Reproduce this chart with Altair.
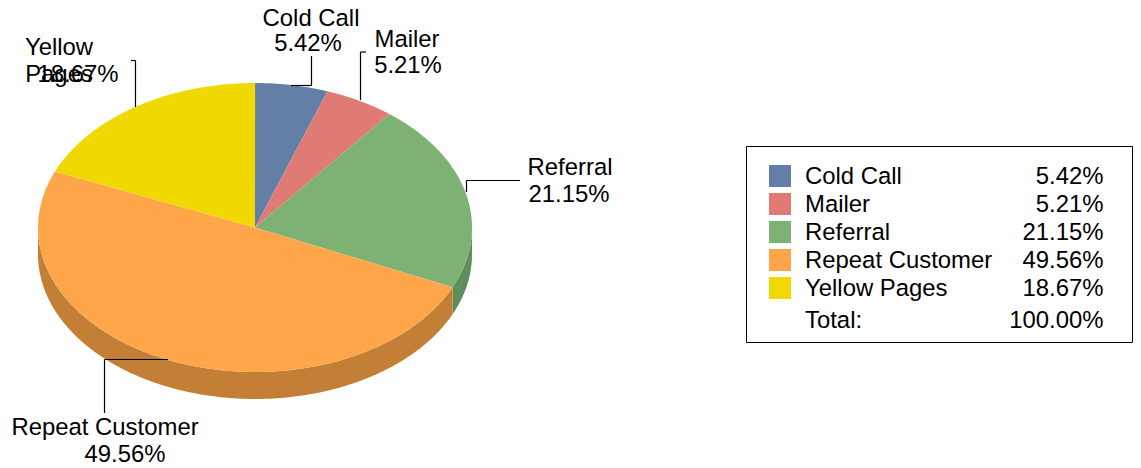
import math
import altair as alt
import pandas as pd

categories = ["Cold Call", "Mailer", "Referral", "Repeat Customer", "Yellow Pages"]
shares = [5.42, 5.21, 21.15, 49.56, 18.67]
share_labels = ["5.42%", "5.21%", "21.15%", "49.56%", "18.67%"]
total_label = "100.00%"
top_colors = ["#647FA6", "#DF7A74", "#7DB274", "#FFA64B", "#F0D900"]
wall_colors = ["#4E6482", "#AE5F5A", "#5F8E5B", "#C47F36", "#BBA900"]

W, H = 1125, 458
OFF = 8
CX, CY, RX, RY, DEPTH = 255 - OFF, 227.5 - OFF, 217, 144.5, 27
FONT = "Liberation Sans"
FS = 23.9


def rim(deg, dy=0.0):
    a = math.radians(deg)
    return [CX + RX * math.sin(a), CY - RY * math.cos(a) + dy]


def arc(a0, a1, dy=0.0):
    n = max(2, int(abs(a1 - a0) / 0.5) + 1)
    return [rim(a0 + (a1 - a0) * i / (n - 1), dy) for i in range(n)]


def feature(name, ring):
    ring = ring + [ring[0]]
    return {"type": "Feature", "properties": {"name": name},
            "geometry": {"type": "Polygon", "coordinates": [ring]}}


tops, walls = [], []
start = 0.0
for name, s in zip(categories, shares):
    end = start + s * 3.6
    tops.append(feature(name, [[CX, CY]] + arc(start, end)))
    w0, w1 = max(start, 90), min(end, 270)
    if w1 > w0:
        walls.append(feature(name, arc(w0, w1) + arc(w1, w0, DEPTH)))
    start = end


def geo(features, colors):
    return alt.Chart(alt.Data(values=features)).mark_geoshape(strokeWidth=0).encode(
        color=alt.Color("properties.name:N",
                        scale=alt.Scale(domain=categories, range=colors),
                        legend=None)
    ).project(type="identity", scale=1, translate=[0, 0])


one = pd.DataFrame({"k": [0]})


def text(s, x, y, align="left"):
    return alt.Chart(pd.DataFrame({"t": [s]})).mark_text(
        font=FONT, fontSize=FS, align=align, baseline="alphabetic", color="#000000"
    ).encode(text="t:N", x=alt.value(x - OFF), y=alt.value(y - OFF))


def seg(x0, y0, x1, y1, color="#000000"):
    return alt.Chart(one).mark_rule(color=color, strokeWidth=1.2).encode(
        x=alt.value(x0 - OFF), y=alt.value(y0 - OFF),
        x2=alt.value(x1 - OFF), y2=alt.value(y1 - OFF))


layers = [geo(walls, wall_colors), geo(tops, top_colors)]

# leader lines
layers += [
    seg(291, 85.5, 311.5, 85.5), seg(311.5, 85.5, 311.5, 56),
    seg(360.5, 100, 360.5, 52), seg(360.5, 52, 366, 52),
    seg(135.5, 107, 135.5, 60.5), seg(135.5, 60.5, 131, 60.5),
    seg(466.5, 192, 466.5, 180.5), seg(466.5, 180.5, 520, 180.5),
    seg(168, 359.5, 104.5, 359.5), seg(104.5, 359.5, 104.5, 413),
]

# slice labels
layers += [
    text(categories[0], 311, 26, "center"), text(share_labels[0], 308, 51, "center"),
    text(categories[1], 407, 47, "center"), text(share_labels[1], 408, 73, "center"),
    text("Yellow", 59, 55, "center"), text("Pages", 59, 82, "center"),
    text(share_labels[4], 78, 82, "center"),
    text(categories[2], 570, 175, "center"), text(share_labels[2], 569, 202, "center"),
    text(categories[3], 105, 435, "center"), text(share_labels[3], 125, 462, "center"),
]

# legend box
layers.append(alt.Chart(one).mark_rect(fill="#FFFFFF", stroke="#000000", strokeWidth=1).encode(
    x=alt.value(746.5 - OFF), x2=alt.value(1132.5 - OFF),
    y=alt.value(146.5 - OFF), y2=alt.value(342.5 - OFF)))
for i, (c, col, lab) in enumerate(zip(categories, top_colors, share_labels)):
    layers.append(alt.Chart(one).mark_rect(fill=col).encode(
        x=alt.value(769 - OFF), x2=alt.value(791 - OFF),
        y=alt.value(165 + 28 * i - OFF), y2=alt.value(187 + 28 * i - OFF)))
    layers.append(text(c, 805, 184 + 28 * i))
    layers.append(text(lab, 1103.5, 184 + 28 * i, "right"))
layers.append(text("Total:", 805, 328))
layers.append(text(total_label, 1103.5, 328, "right"))

chart = alt.layer(*layers).resolve_scale(color="independent").properties(
    width=W, height=H, padding=0, autosize=alt.AutoSizeParams(type="none"),
    background="#FFFFFF"
).configure_view(stroke=None)

chart.save("out.html", embed_options={"renderer": "svg", "actions": False})
